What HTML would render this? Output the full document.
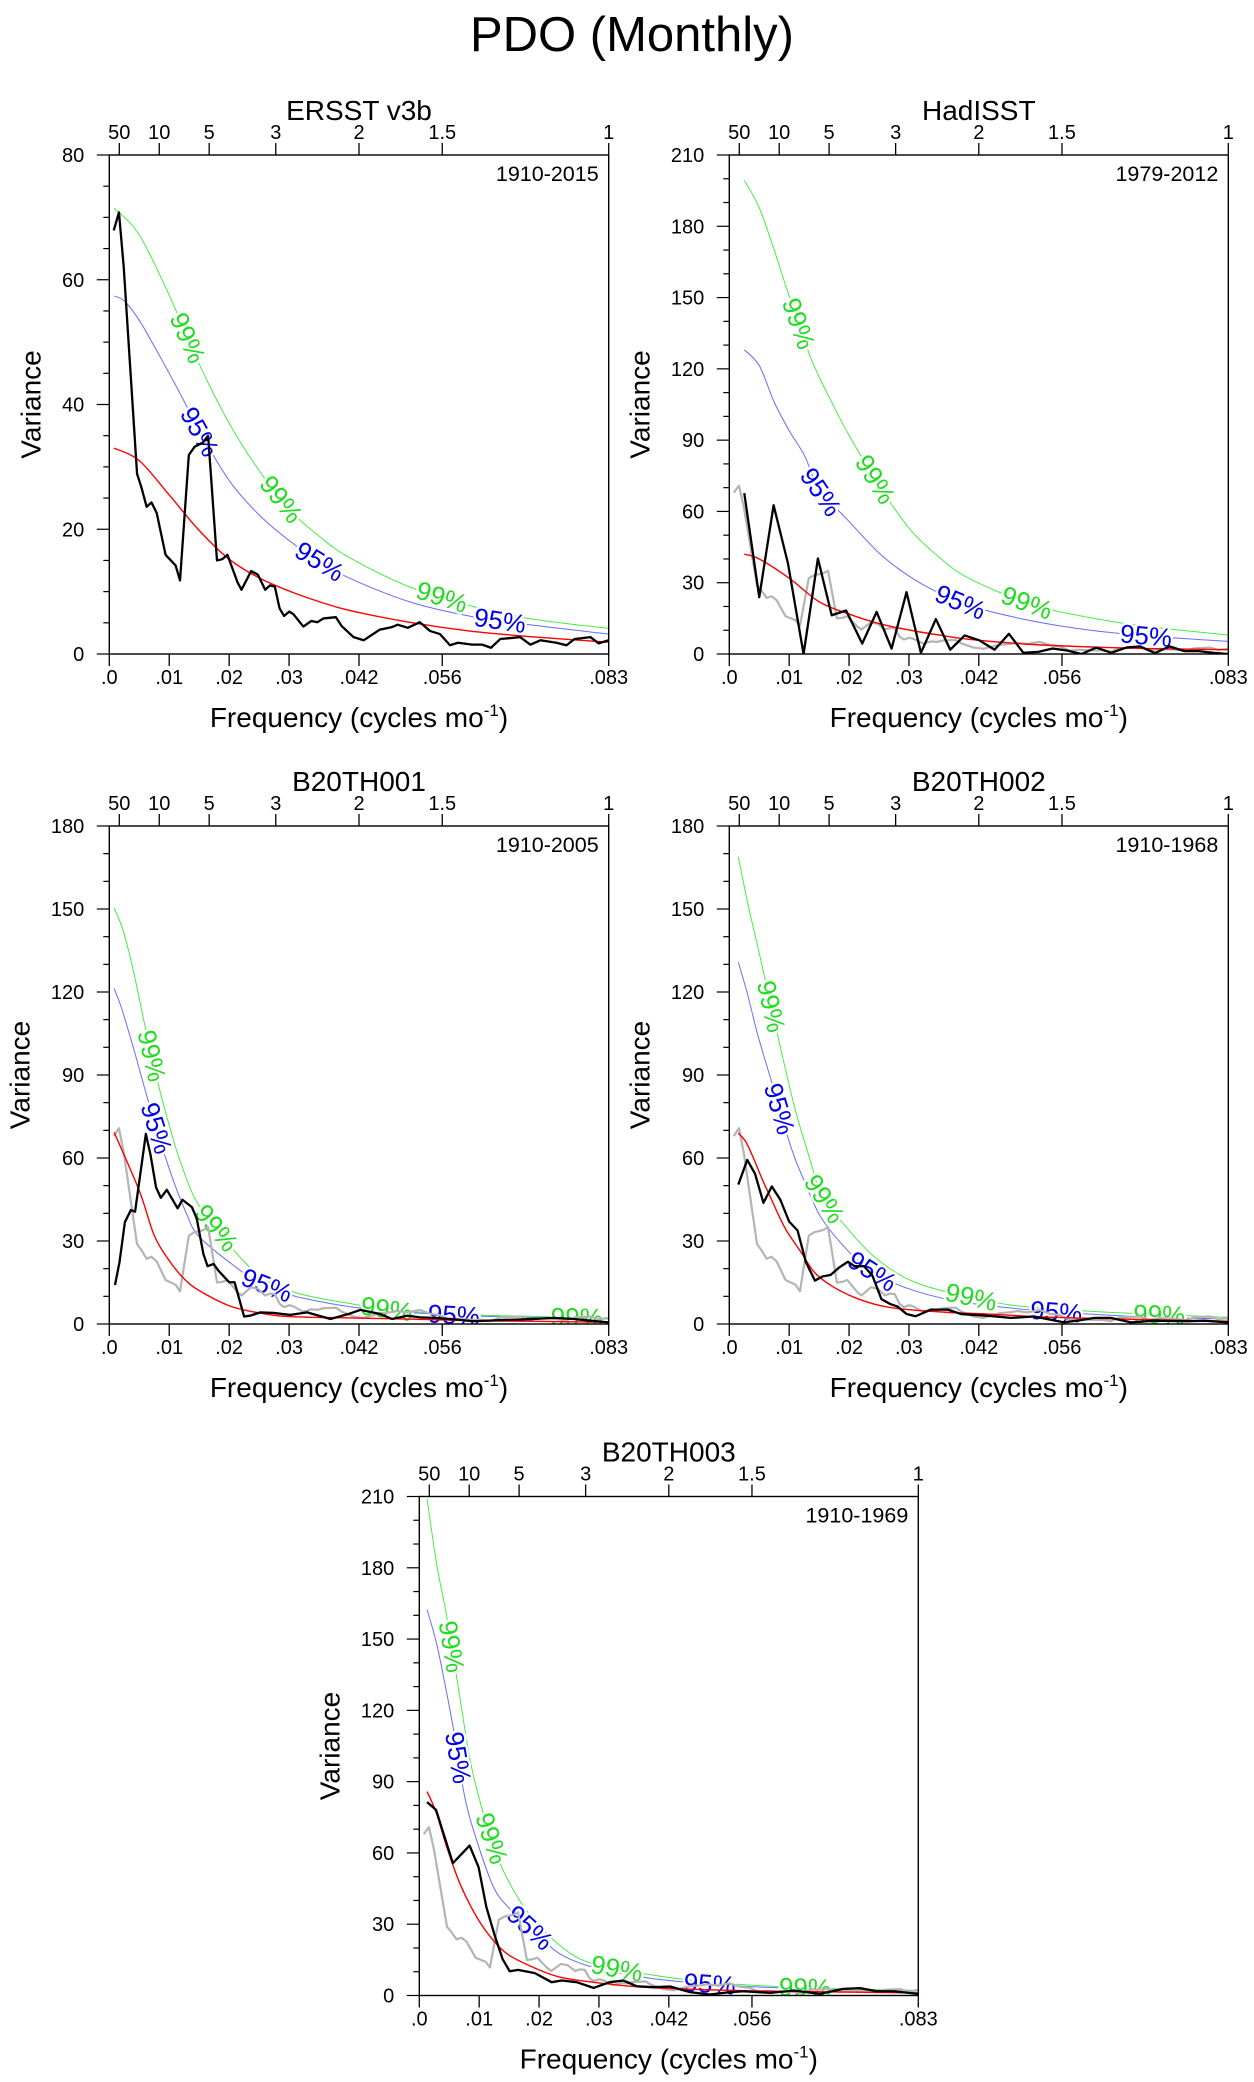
<!DOCTYPE html>
<html><head><meta charset="utf-8"><title>PDO (Monthly)</title>
<style>
html,body{margin:0;padding:0;background:#fff;}
svg{display:block;font-family:"Liberation Sans",Arial,sans-serif;}
</style></head>
<body>
<svg id="fig" width="1254" height="2082" viewBox="0 0 1254 2082" xmlns="http://www.w3.org/2000/svg">
<rect width="1254" height="2082" fill="#fff"/>
<text x="632" y="51" font-size="49" text-anchor="middle">PDO (Monthly)</text>
</svg>
<script>
// ---------- shared axis data ----------
const xTickFreqs = [0, 0.01, 0.02, 0.03, 0.041667, 0.055556, 0.083333];
const xTickLabels = [".0", ".01", ".02", ".03", ".042", ".056", ".083"];
const periodTicks = [50, 10, 5, 3, 2, 1.5, 1];
const periodLabels = ["50", "10", "5", "3", "2", "1.5", "1"];

// ERSST observed spectrum (panel 1 black; gray in other panels)
const obsF = [.00074,.00161,.00241,.00463,.00536,.00623,.00704,.00791,.00939,.01106,.0118,.01327,.01421,.01562,.01649,.01797,.01884,.01971,.02139,.02206,.02367,.0248,.02601,.02682,.02762,.02842,.02916,.03003,.0307,.03238,.03372,.03473,.03573,.03781,.03875,.04076,.04244,.04512,.04713,.04813,.04981,.05182,.0535,.05517,.05685,.05819,.06054,.06221,.06369,.06523,.06858,.07026,.07193,.07461,.07629,.07763,.08031,.08165,.08333];
const obsV = [67.9,70.8,62,28.9,26.7,23.6,24.3,22.6,15.9,14.2,11.8,31.9,33.2,33.9,35,15,15.2,15.9,11.5,10.3,13.3,12.7,10.3,11,10.8,7.3,6.1,6.8,6.4,4.4,5.3,5.1,5.7,5.9,4.5,2.7,2.2,3.9,4.3,4.7,4.2,5.1,3.7,3.2,1.4,1.8,1.5,1.5,1,2.4,2.7,1.5,2.2,1.8,1.4,2.4,2.7,1.7,2.2];

// Panel 1 (ERSST v3b) curves
const p1RedF = [.0008,.005,.01,.015,.02,.025,.03,.035,.04,.05,.06,.07,.0833];
const p1RedV = [33,31,25.5,19.8,15.2,12.2,10.1,8.4,7,5.1,3.7,2.8,1.9];
const p1BlueF = [.0008,.0025,.005,.0077,.01,.0125,.015,.02,.025,.03,.035,.04,.05,.06,.07,.0833];
const p1BlueV = [57.4,56.6,53.5,49,45,40.5,35.8,27.8,22.3,18.2,14.9,12.2,8.4,6.1,4.7,3.2];
const p1GreenF = [.0008,.005,.01,.015,.02,.025,.03,.035,.04,.05,.06,.07,.0833];
const p1GreenV = [71.5,67.2,57.5,46.5,37,29.4,23.2,18.9,15.5,10.8,7.8,5.7,4.1];
const p1Lab99 = [.0131,.0287,.0555];
const p1Lab95 = [.0151,.0351,.0652];

// Panel 2 (HadISST)
const p2BlackF = [.0025,.005,.0074,.0098,.0124,.0148,.0171,.0195,.0222,.0246,.0271,.0296,.032,.0345,.0369,.0393,.0418,.0443,.0467,.0491,.0516,.054,.0565,.0588,.0613,.0638,.0663,.0686,.0711,.0735,.076,.0784,.0808,.0833];
const p2BlackV = [67.7,23.9,62.6,38.1,0,40.2,16.3,18.3,4.4,17.7,2.3,26,0.5,14.7,1.8,7.8,5.7,1.8,8.5,0.5,0.9,2.3,1.4,0,2.7,0.5,2.7,3.2,0.4,3.2,1.2,1.2,0.5,0];
const p2RedF = [.0025,.005,.01,.015,.02,.025,.03,.035,.04,.05,.06,.07,.0833];
const p2RedV = [42,40,31.9,22,16.8,12.8,10.1,8,6.2,4.1,3,2.3,1.8];
const p2BlueF = [.0025,.005,.0075,.0100,.0126,.015,.0186,.02,.025,.03,.035,.04,.05,.06,.07,.0833];
const p2BlueV = [128,121.4,106,94,83.3,69,59.4,55.8,42.5,32.8,25.7,20.4,14.2,10.1,7.6,5.3];
const p2GreenF = [.0025,.005,.0075,.01,.0137,.0171,.02,.025,.03,.035,.04,.05,.06,.07,.0833];
const p2GreenV = [199.4,187.8,170,150.6,124,106,92,71,53,40.8,31.9,21.3,15.4,11.5,8];
const p2Lab99 = [.0116,.0244,.0497];
const p2Lab95 = [.0153,.0386,.0696];

// Panel 3 (B20TH001)
const p3BlackF = [.00095,.0017,.0026,.0036,.0043,.0061,.0069,.0078,.0086,.0096,.0114,.0122,.0138,.0146,.0157,.0164,.0174,.0182,.02,.0209,.0225,.0235,.0252,.0274,.0302,.033,.0369,.0399,.0419,.0452,.0472,.0497,.0519,.0541,.0569,.0608,.0652,.0708,.0742,.0775,.0803,.0833];
const p3BlackV = [14.1,22.3,36.8,41.2,40.6,68.7,60.9,49.4,45.6,48.5,41.8,44.9,42.2,38,25.3,20.9,21.7,19.3,15.1,15.1,2.7,3,4.2,4,3.3,4.2,1.8,3.6,5.1,3.6,1.8,3,2.4,2.2,1.8,1,1.4,1.8,2.2,1.8,1.2,0.6];
const p3RedF = [.0008,.005,.0075,.01,.0125,.015,.02,.025,.03,.04,.05,.06,.07,.0833];
const p3RedV = [69.3,48.2,32,22.9,16.3,12.1,6.6,4,2.7,2.2,1.8,1.2,1,0.6];
const p3BlueF = [.0008,.002,.004,.0068,.0101,.0129,.0151,.0215,.025,.03,.0318,.04,.05,.06,.07,.0833];
const p3BlueV = [121.2,114.5,100,78.4,55.5,39.8,31.3,19.9,15.1,10.9,9.6,6.3,4.2,3,2.4,1.8];
const p3GreenF = [.0008,.0023,.004,.006,.0085,.0101,.0118,.0151,.0221,.0263,.0318,.0407,.0485,.0541,.0652,.0833];
const p3GreenV = [150.4,142.3,127.8,107.3,83.8,71.1,59.1,42.2,23.5,15.7,10.9,7.2,4.8,4,3,2.2];
const p3Lab99 = [.0071,.0179,.0463,.078];
const p3Lab95 = [.0079,.0263,.0575];

// Panel 4 (B20TH002)
const p4BlackF = [.0015,.003,.0043,.0057,.0071,.0085,.01,.0114,.0128,.0143,.0156,.0169,.0184,.0198,.0209,.0225,.0239,.0254,.0269,.0281,.0296,.0311,.0337,.0365,.0387,.0431,.047,.0509,.0559,.0587,.061,.0637,.0671,.071,.0765,.0793,.0833];
const p4BlackV = [50.4,59.3,54.3,43.8,49.7,45,37,33.8,22.3,15.7,17.2,17.7,20.5,22.5,20.9,20.9,17.5,9,7.2,6.3,3.6,2.8,5.2,5.2,3.6,3,2.2,2.7,0.6,1.4,2.2,2.2,0.6,1.2,1,1.2,0.6];
const p4RedF = [.0015,.0028,.0042,.0056,.007,.0084,.0097,.0120,.0142,.0170,.0209,.0253,.0298,.0365,.0431,.0543,.0654,.0833];
const p4RedV = [69,65.7,59.1,51.8,45.2,38.6,33.2,25.9,18.7,13.9,9.6,6.6,5.2,4.2,3.6,2.4,1.8,1];
const p4BlueF = [.0015,.0031,.0047,.007,.0103,.0125,.0153,.0198,.0237,.0292,.0376,.0487,.0599,.071,.0835];
const p4BlueV = [130.8,118.8,104.9,88,63.9,51.8,38.6,26.5,19.3,13.3,8.4,5.4,3.6,2.4,1.8];
const p4GreenF = [.0015,.0031,.0045,.0059,.0084,.0109,.0136,.0153,.0186,.0237,.0292,.0354,.046,.0543,.0654,.0835];
const p4GreenV = [168.8,151.9,138.7,125.4,101.3,78.4,58.5,47,37.4,25.3,16.9,12.1,7.2,5.4,4,2.4];
const p4Lab99 = [.007,.0159,.0404,.0718];
const p4Lab95 = [.0084,.0239,.0546];

// Panel 5 (B20TH003)
const p5BlackF = [.0013,.0028,.0056,.0084,.0099,.0112,.0126,.0139,.0151,.0165,.0193,.0221,.0238,.0263,.0291,.0318,.0341,.0363,.0391,.0419,.0452,.0485,.0519,.0541,.0586,.0625,.0669,.0708,.0736,.0764,.0792,.0833];
const p5BlackV = [81.4,78.1,55.7,63.1,54,37.2,25.2,15.4,10.2,10.8,9.4,5.6,6.3,5.6,3.2,5.6,6.3,3.9,3.5,3.8,1.4,0.4,1.4,1.8,1.1,2.1,0.7,2.8,3.1,1.8,1.8,0.7];
const p5RedF = [.0013,.0028,.0046,.0068,.0096,.0124,.0151,.0196,.0235,.029,.0374,.0485,.0597,.0833];
const p5RedV = [85.8,77.1,62.4,47,33,23.1,16.8,11.2,7.7,5.6,3.5,2.4,1.8,1.1];
const p5BlueF = [.0013,.0029,.0046,.0057,.0076,.0096,.0124,.0151,.0196,.0235,.029,.0374,.0447,.0541,.0652,.0833];
const p5BlueV = [162.4,148,127,112.2,83.5,65.2,45.6,36.5,26,17.5,11.9,7.7,5.6,3.9,2.8,2.1];
const p5GreenF = [.0013,.0029,.0046,.0065,.0085,.0104,.0124,.0140,.0179,.0235,.029,.0385,.0485,.0597,.0708,.0833];
const p5GreenV = [209,181.6,159.2,129.8,98.9,79.3,63.8,52.6,35.8,21,13.3,8.8,5.6,3.8,2.8,2.1];
const p5Lab99 = [.0054,.0121,.033,.0644];
const p5Lab95 = [.0065,.0185,.0485];

// ---------- rendering ----------
const NS = "http://www.w3.org/2000/svg";
const svg = document.getElementById("fig");
const FMAX = 0.083333;

function mk(tag, attrs, parent) {
  const e = document.createElementNS(NS, tag);
  for (const k in attrs) e.setAttribute(k, attrs[k]);
  (parent || svg).appendChild(e);
  return e;
}

function interp(F, V, f) {
  if (f <= F[0]) return V[0];
  for (let i = 1; i < F.length; i++) {
    if (f <= F[i]) { const t = (f - F[i-1]) / (F[i] - F[i-1]); return V[i-1] + t * (V[i] - V[i-1]); }
  }
  return V[V.length - 1];
}

function smoothPath(pts) {
  let d = "M" + pts[0][0].toFixed(2) + "," + pts[0][1].toFixed(2);
  for (let i = 0; i < pts.length - 1; i++) {
    const p0 = pts[Math.max(0, i-1)], p1 = pts[i], p2 = pts[i+1], p3 = pts[Math.min(pts.length-1, i+2)];
    const c1x = p1[0] + (p2[0]-p0[0])/6, c1y = p1[1] + (p2[1]-p0[1])/6;
    const c2x = p2[0] - (p3[0]-p1[0])/6, c2y = p2[1] - (p3[1]-p1[1])/6;
    d += " C" + c1x.toFixed(2) + "," + c1y.toFixed(2) + " " + c2x.toFixed(2) + "," + c2y.toFixed(2) + " " + p2[0].toFixed(2) + "," + p2[1].toFixed(2);
  }
  return d;
}

function drawPanel(cfg) {
  const g = mk("g", {});
  
  
  const X = f => cfg.x + f / FMAX * cfg.w;
  const Y = v => cfg.y + cfg.h - v / cfg.ymax * cfg.h;

  const t = mk("text", {x: cfg.x + cfg.w/2, y: cfg.y - 35, "font-size": 28, "text-anchor": "middle"}, g);
  t.textContent = cfg.title;
  
  

  periodTicks.forEach((p, i) => {
    const xx = X(1 / (12 * p));
    const tk = mk("line", {x1: xx, x2: xx, y1: cfg.y, y2: cfg.y - 12, stroke: "#000", "stroke-width": 1.3}, g);
    
    
    const tl = mk("text", {x: xx, y: cfg.y - 16, "font-size": 20, "text-anchor": "middle"}, g);
    tl.textContent = periodLabels[i];
    
    
  });

  xTickFreqs.forEach((f, i) => {
    const xx = X(f);
    const tk = mk("line", {x1: xx, x2: xx, y1: cfg.y + cfg.h, y2: cfg.y + cfg.h + 12, stroke: "#000", "stroke-width": 1.3}, g);
    
    
    const tl = mk("text", {x: xx, y: cfg.y + cfg.h + 30, "font-size": 20, "text-anchor": "middle"}, g);
    tl.textContent = xTickLabels[i];
    
    
  });

  for (let v = 0; v <= cfg.ymax + 1e-6; v += cfg.minor) {
    const major = Math.abs(v / cfg.major - Math.round(v / cfg.major)) < 1e-6;
    const yy = Y(v);
    const tk = mk("line", {x1: cfg.x - (major ? 12.5 : 6), x2: cfg.x, y1: yy, y2: yy, stroke: "#000", "stroke-width": 1.2}, g);
    
    
    if (major) {
      const tl = mk("text", {x: cfg.x - 25, y: yy + 7, "font-size": 20, "text-anchor": "end"}, g);
      tl.textContent = String(Math.round(v));
      
      
    }
  }

  const yl = cfg.ymax >= 100 ? 90 : 79;
  const yt = mk("text", {x: 0, y: 0, "font-size": 28, "text-anchor": "middle", transform: "translate(" + (cfg.x - yl + 10) + "," + (cfg.y + cfg.h/2) + ") rotate(-90)"}, g);
  yt.textContent = "Variance";
  
  
  const xt = mk("text", {x: cfg.x + cfg.w/2, y: cfg.y + cfg.h + 73, "font-size": 28, "text-anchor": "middle"}, g);
  
  
  xt.innerHTML = 'Frequency (cycles mo<tspan dy="-11" font-size="17">-1</tspan><tspan dy="11">)</tspan>';

  const yr = mk("text", {x: cfg.x + cfg.w - 10, y: cfg.y + 26, "font-size": 21.5, "text-anchor": "end"}, g);
  yr.textContent = cfg.years;
  
  

  const clip = "clip-" + cfg.name;
  const cp = mk("clipPath", {id: clip}, g);
  mk("rect", {x: cfg.x, y: cfg.y - 2, width: cfg.w, height: cfg.h + 2}, cp);
  const plot = mk("g", {"clip-path": "url(#" + clip + ")"}, g);

  function curve(F, V, color, sw, name) {
    const pts = F.map((f, i) => [X(f), Y(V[i])]);
    const p = mk("path", {d: smoothPath(pts), fill: "none", stroke: color, "stroke-width": sw}, plot);
    
    
  }
  function poly(F, V, color, sw, name) {
    const p = mk("polyline", {points: F.map((f, i) => X(f).toFixed(2) + "," + Y(V[i]).toFixed(2)).join(" "), fill: "none", stroke: color, "stroke-width": sw, "stroke-linejoin": "round"}, plot);
    
    
  }
  function labels(F, V, freqs, txt, color, name) {
    freqs.forEach(f => {
      const xa = X(f - 0.0008), ya = Y(interp(F, V, f - 0.0008));
      const xb = X(f + 0.0008), yb = Y(interp(F, V, f + 0.0008));
      const ang = Math.atan2(yb - ya, xb - xa) * 180 / Math.PI;
      const cx = X(f), cy = Y(interp(F, V, f));
      const tx = mk("text", {x: 0, y: 9, "font-size": 26, "text-anchor": "middle", fill: color,
        stroke: "#fff", "stroke-width": 5, "paint-order": "stroke", "stroke-linejoin": "round",
        transform: "translate(" + cx.toFixed(2) + "," + cy.toFixed(2) + ") rotate(" + ang.toFixed(1) + ")"}, plot);
      tx.textContent = txt;
      
      
    });
  }

  curve(cfg.blueF, cfg.blueV, "#6a6aff", 1, "conf-95-curve");
  curve(cfg.greenF, cfg.greenV, "#44ee44", 1, "conf-99-curve");
  labels(cfg.greenF, cfg.greenV, cfg.lab99, "99%", "#1fdc1f", "conf-99-label");
  labels(cfg.blueF, cfg.blueV, cfg.lab95, "95%", "#0000ee", "conf-95-label");
  if (cfg.gray) poly(obsF, obsV, "#b4b4b4", 2.2, "ersst-reference-spectrum");
  curve(cfg.redF, cfg.redV, "#ff0000", 1.4, "red-noise-curve");
  poly(cfg.blackF, cfg.blackV, "#000", 2.3, "spectrum-line");

  const fr = mk("rect", {x: cfg.x, y: cfg.y, width: cfg.w, height: cfg.h, fill: "none", stroke: "#000", "stroke-width": 1.4}, g);
  
  
}

drawPanel({name: "panel-ersst", title: "ERSST v3b", years: "1910-2015", x: 109.3, y: 155, w: 499.4, h: 499, ymax: 80, major: 20, minor: 5,
  blackF: obsF, blackV: obsV, redF: p1RedF, redV: p1RedV, blueF: p1BlueF, blueV: p1BlueV, greenF: p1GreenF, greenV: p1GreenV, lab99: p1Lab99, lab95: p1Lab95, gray: false});
drawPanel({name: "panel-hadisst", title: "HadISST", years: "1979-2012", x: 729.3, y: 155, w: 499, h: 499, ymax: 210, major: 30, minor: 10,
  blackF: p2BlackF, blackV: p2BlackV, redF: p2RedF, redV: p2RedV, blueF: p2BlueF, blueV: p2BlueV, greenF: p2GreenF, greenV: p2GreenV, lab99: p2Lab99, lab95: p2Lab95, gray: true});
drawPanel({name: "panel-b20th001", title: "B20TH001", years: "1910-2005", x: 109.3, y: 826, w: 499.4, h: 498, ymax: 180, major: 30, minor: 10,
  blackF: p3BlackF, blackV: p3BlackV, redF: p3RedF, redV: p3RedV, blueF: p3BlueF, blueV: p3BlueV, greenF: p3GreenF, greenV: p3GreenV, lab99: p3Lab99, lab95: p3Lab95, gray: true});
drawPanel({name: "panel-b20th002", title: "B20TH002", years: "1910-1968", x: 729.3, y: 826, w: 499, h: 498, ymax: 180, major: 30, minor: 10,
  blackF: p4BlackF, blackV: p4BlackV, redF: p4RedF, redV: p4RedV, blueF: p4BlueF, blueV: p4BlueV, greenF: p4GreenF, greenV: p4GreenV, lab99: p4Lab99, lab95: p4Lab95, gray: true});
drawPanel({name: "panel-b20th003", title: "B20TH003", years: "1910-1969", x: 419.3, y: 1496.5, w: 499, h: 499, ymax: 210, major: 30, minor: 10,
  blackF: p5BlackF, blackV: p5BlackV, redF: p5RedF, redV: p5RedV, blueF: p5BlueF, blueV: p5BlueV, greenF: p5GreenF, greenV: p5GreenV, lab99: p5Lab99, lab95: p5Lab95, gray: true});
</script>
</body></html>
